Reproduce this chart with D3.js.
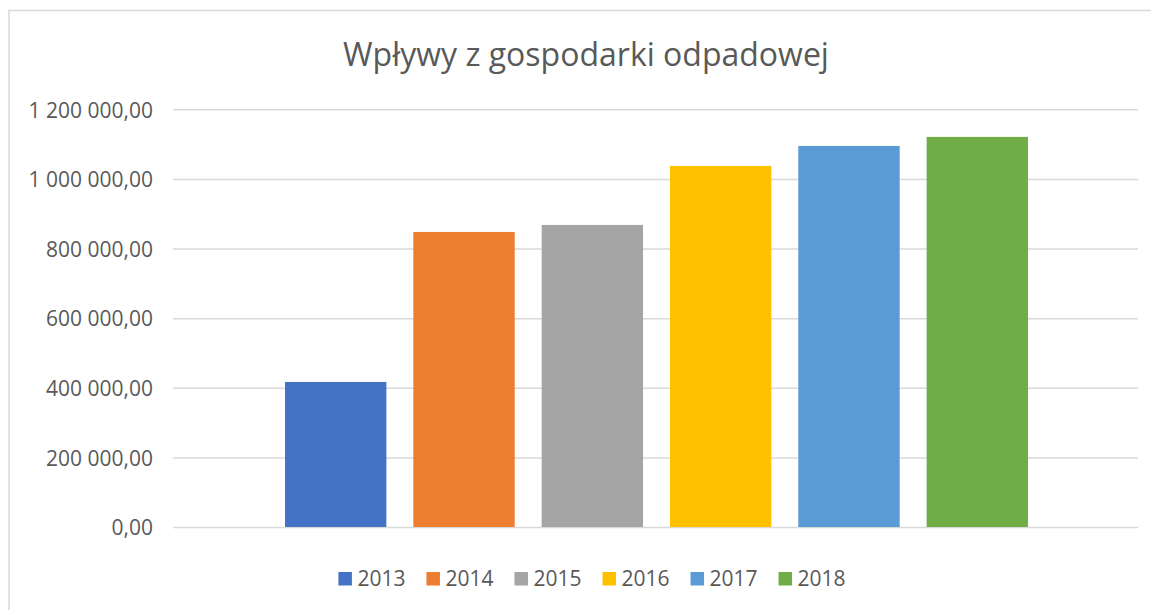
<!DOCTYPE html>
<html><head><meta charset="utf-8">
<script src="https://cdn.jsdelivr.net/npm/d3@7"></script>
<style>html,body{margin:0;padding:0;background:#fff;}svg{display:block;}</style>
</head><body>
<svg id="c" width="1151" height="610"></svg>
<script>
const title = "Wpływy z gospodarki odpadowej";
const years = ["2013","2014","2015","2016","2017","2018"];
const values = [416700, 847700, 867800, 1037400, 1094800, 1120700];
const colors = ["#4472C4","#ED7D31","#A5A5A5","#FFC000","#5B9BD5","#70AD47"];
const yTicks = [0,200000,400000,600000,800000,1000000,1200000];

const font = "'Open Sans', sans-serif";
const txt = "#595959";
const svg = d3.select("#c");

// chart border
svg.append("rect").attr("x",9).attr("y",10.5).attr("width",1170).attr("height",640)
  .attr("fill","none").attr("stroke","#d9d9d9").attr("stroke-width",1.5);

const plotL = 173, plotR = 1138, plotT = 109.3, plotB = 527;
const y = d3.scaleLinear().domain([0,1200000]).range([plotB, plotT]);
const x = d3.scaleBand().domain(years).range([plotL+112, plotR-110]).paddingInner(0.21).paddingOuter(0);

const fmt = v => d3.format(",.2f")(v).replace(/,/g," ").replace(".",",");

const yAxis = d3.axisLeft(y).tickValues(yTicks).tickSize(-(plotR-plotL)).tickPadding(20).tickFormat(fmt);
const g = svg.append("g").attr("transform",`translate(${plotL},0)`).call(yAxis);
g.select(".domain").remove();
g.selectAll(".tick line").attr("stroke","#d9d9d9").attr("stroke-width",1.5);
g.selectAll(".tick text").attr("fill",txt).attr("dy","0.37em").style("font-family",font).style("font-size","21px");

svg.append("g").selectAll("rect").data(years).join("rect")
  .attr("x",d=>x(d)).attr("width",x.bandwidth())
  .attr("y",(d,i)=>y(values[i])).attr("height",(d,i)=>plotB-y(values[i]))
  .attr("fill",(d,i)=>colors[i]);

svg.append("text").attr("x",586).attr("y",66).attr("text-anchor","middle")
  .attr("fill",txt).style("font-family",font).style("font-size","32px").text(title);

// legend
const lg = svg.append("g");
const items = lg.selectAll("g").data(years).join("g");
items.append("rect").attr("width",13.5).attr("height",13.5).attr("y",572).attr("fill",(d,i)=>colors[i]);
items.append("text").attr("x",19).attr("y",586).attr("fill",txt)
  .style("font-family",font).style("font-size","21px").text(d=>d);
let xs = 0; const pos = [];
items.each(function(){ pos.push(xs); xs += 19 + this.querySelector("text").getComputedTextLength() + 21; });
const totalW = xs - 21;
const start = 592 - totalW/2;
items.attr("transform",(d,i)=>`translate(${start+pos[i]},0)`);
</script>
</body></html>
